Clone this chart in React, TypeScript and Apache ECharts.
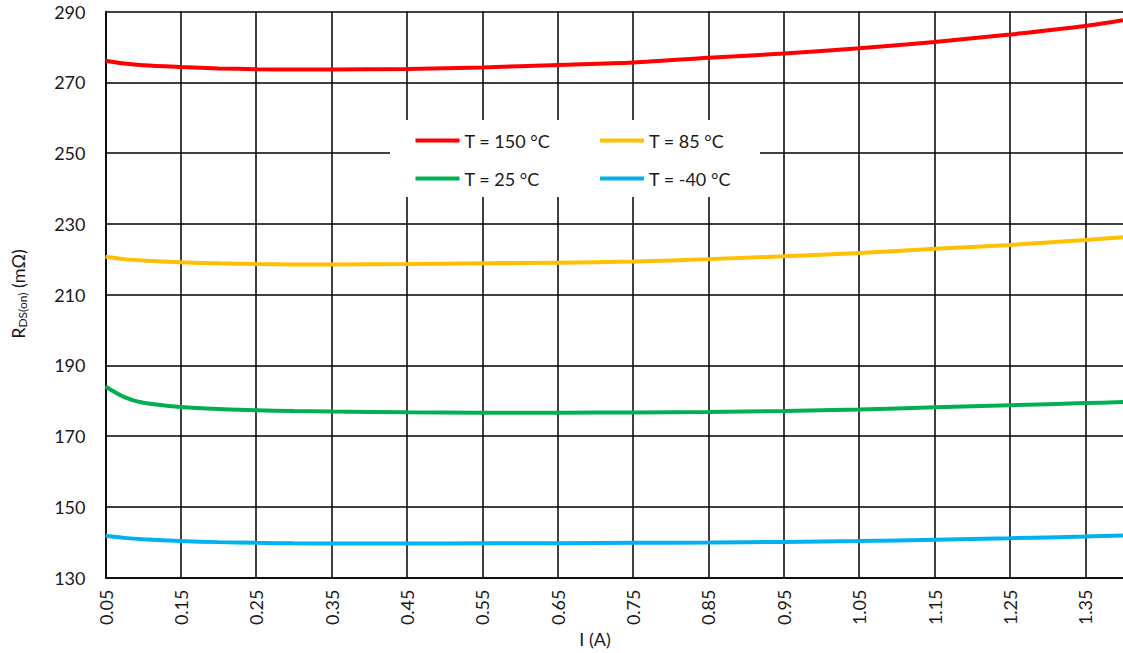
import React, { useEffect, useRef } from "react";
import * as echarts from "echarts";

const xValues = [0.05, 0.075, 0.1, 0.15, 0.2, 0.25, 0.3, 0.35, 0.45, 0.55, 0.65, 0.75, 0.85, 0.95, 1.05, 1.15, 1.25, 1.35, 1.4];
const t150 = [276.1, 275.3, 274.8, 274.3, 273.9, 273.7, 273.6, 273.6, 273.75, 274.2, 274.9, 275.6, 276.9, 278.1, 279.6, 281.4, 283.5, 285.9, 287.5];
const t85 = [220.7, 220.0, 219.6, 219.1, 218.8, 218.6, 218.5, 218.5, 218.6, 218.8, 219.0, 219.3, 220.0, 220.8, 221.7, 222.9, 224.0, 225.4, 226.2];
const t25 = [184.0, 181.0, 179.4, 178.2, 177.6, 177.3, 177.05, 176.9, 176.7, 176.6, 176.6, 176.65, 176.8, 177.05, 177.5, 178.1, 178.7, 179.3, 179.6];
const tm40 = [141.8, 141.2, 140.8, 140.3, 140.0, 139.8, 139.65, 139.6, 139.6, 139.65, 139.7, 139.8, 139.9, 140.05, 140.3, 140.7, 141.1, 141.6, 141.9];

const seriesNames = ["T = 150 °C", "T = 85 °C", "T = 25 °C", "T = -40 °C"];
const seriesColors = ["#FF0000", "#FFC000", "#00B050", "#00B0F0"];
const seriesData = [t150, t85, t25, tm40];

const xTicks = [0.05, 0.15, 0.25, 0.35, 0.45, 0.55, 0.65, 0.75, 0.85, 0.95, 1.05, 1.15, 1.25, 1.35];
const yTicks = [130, 150, 170, 190, 210, 230, 250, 270, 290];

const FONT = "Lato";
const TXT = "#1a1a1a";

export default function App() {
  const ref = useRef<HTMLDivElement>(null);
  useEffect(() => {
    if (!ref.current) return;
    const chart = echarts.init(ref.current, null, { renderer: "svg" });
    const legendBase = {
      orient: "vertical",
      top: 130.5,
      itemWidth: 44,
      itemHeight: 4,
      icon: "rect",
      itemGap: 18,
      padding: 0,
      selectedMode: false,
      textStyle: { fontSize: 18, lineHeight: 20, fontFamily: FONT, color: TXT },
      z: 5,
    };
    chart.setOption({
      animation: false,
      backgroundColor: "#ffffff",
      grid: { left: 105.5, right: 0, top: 11.5, bottom: 75.5 },
      xAxis: {
        type: "value",
        min: 0.05,
        max: 1.4,
        axisLine: { show: true, onZero: false, lineStyle: { color: "#000", width: 1.5 } },
        axisTick: { show: false, customValues: xTicks },
        axisLabel: {
          customValues: xTicks,
          rotate: 90,
          margin: 12,
          fontSize: 18,
          fontFamily: FONT,
          color: TXT,
          formatter: (v: number) => v.toFixed(2),
        },
        splitLine: { show: true, lineStyle: { color: "#000", width: 1.5 } },
      },
      yAxis: {
        type: "value",
        min: 130,
        max: 290,
        axisLine: { show: true, lineStyle: { color: "#000", width: 1.5 } },
        axisTick: { show: false, customValues: yTicks },
        axisLabel: {
          customValues: yTicks,
          margin: 20,
          fontSize: 18,
          fontFamily: FONT,
          color: TXT,
        },
        splitLine: { show: true, lineStyle: { color: "#000", width: 1.5 } },
      },
      legend: [
        { ...legendBase, left: 415.5, data: [seriesNames[0], seriesNames[2]] },
        { ...legendBase, left: 600, data: [seriesNames[1], seriesNames[3]] },
      ],
      graphic: [
        {
          type: "rect",
          z: 3,
          shape: { x: 390, y: 120, width: 370, height: 77 },
          style: { fill: "#ffffff" },
        },
        {
          type: "text",
          x: 595,
          y: 639,
          style: {
            text: "I (A)",
            fontSize: 18,
            fontFamily: FONT,
            fill: TXT,
            align: "center",
            verticalAlign: "middle",
          },
        },
        {
          type: "text",
          x: 18,
          y: 294,
          rotation: Math.PI / 2,
          style: {
            text: "{r|R}{s|DS(on)}{r| (mΩ)}",
            align: "center",
            verticalAlign: "middle",
            fill: TXT,
            fontFamily: FONT,
            rich: {
              r: { fontSize: 18, fontFamily: FONT, fill: TXT, lineHeight: 22 },
              s: { fontSize: 12, fontFamily: FONT, fill: TXT, padding: [9, 0, 0, 0] },
            },
          },
        },
      ],
      series: seriesNames.map((name, i) => ({
        name,
        type: "line",
        smooth: 0.3,
        showSymbol: false,
        symbol: "none",
        color: seriesColors[i],
        lineStyle: { width: 4, color: seriesColors[i] },
        data: xValues.map((x, j) => [x, seriesData[i][j]]),
        z: 2,
      })),
    });
    return () => chart.dispose();
  }, []);
  return (
    <div
      ref={ref}
      style={{ position: "absolute", left: 0, top: 0, width: 1123, height: 653 }}
    />
  );
}
